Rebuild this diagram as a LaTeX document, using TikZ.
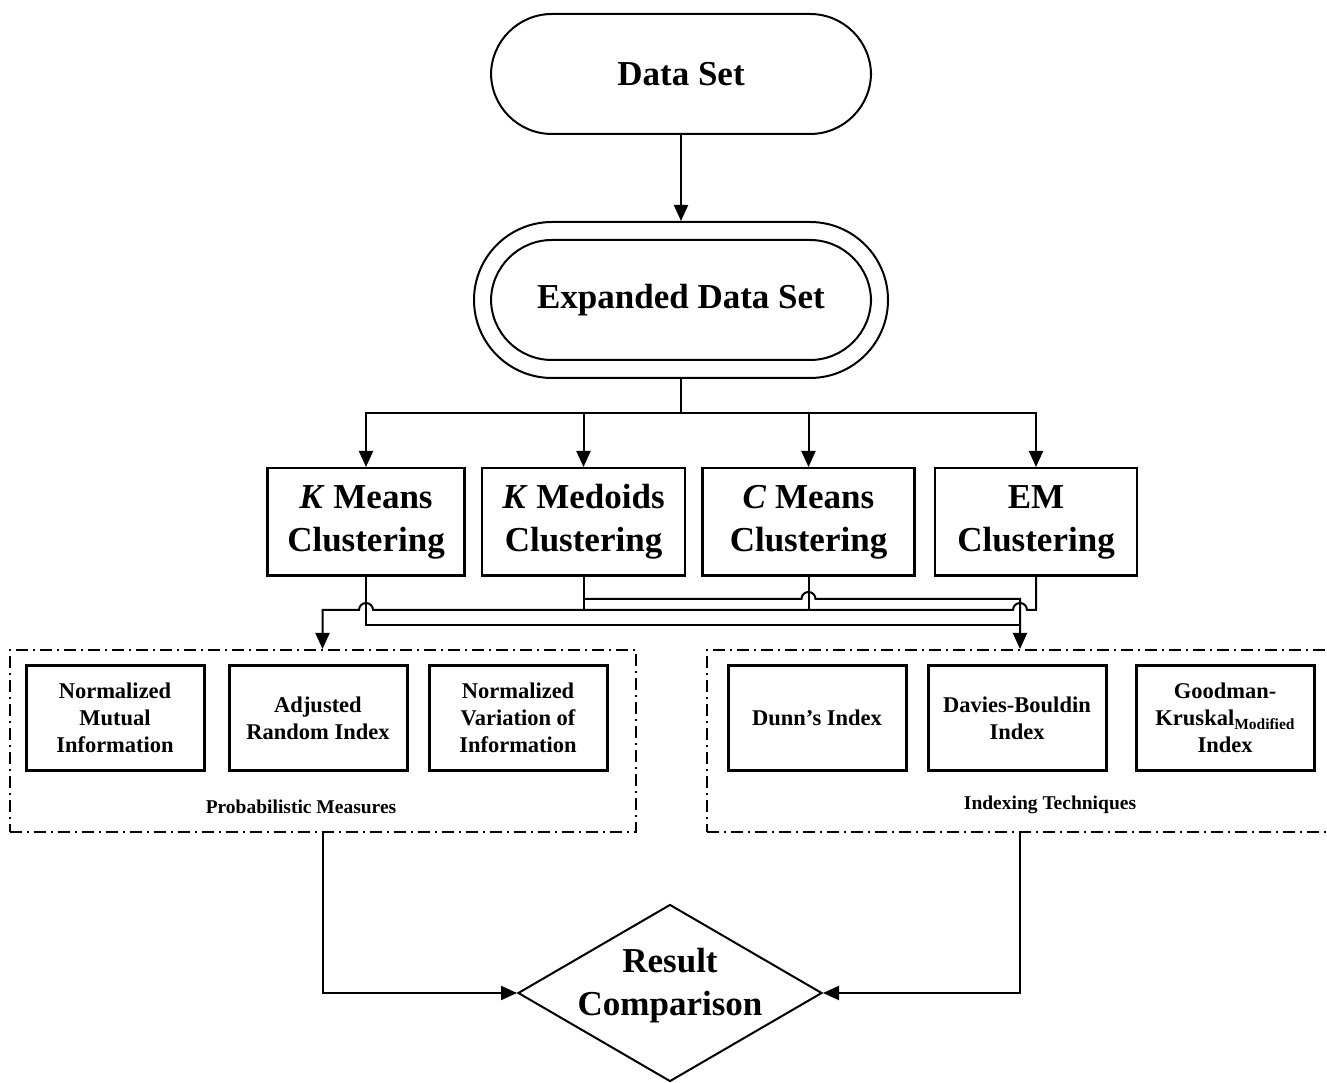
\documentclass[tikz,border=0pt]{standalone}
\usepackage{fontspec}
\setmainfont{Liberation Serif}
\usetikzlibrary{arrows.meta, positioning, shapes.geometric, calc}

\begin{document}
\begin{tikzpicture}[x=1pt, y=1pt, node distance=15pt,
    every node/.style={font=\bfseries},
    big/.style={font=\fontsize{35}{43}\selectfont\bfseries, align=center},
    pill/.style={big, draw, line width=2pt, rectangle, rounded corners=61pt, minimum width=380pt, minimum height=120pt},
    algo/.style={big, draw, line width=2.5pt, minimum height=107.5pt},
    meas/.style={draw, line width=3pt, minimum width=178pt, minimum height=105pt, align=center, font=\fontsize{22.5}{27}\selectfont\bfseries},
    group/.style={draw, line width=2pt, dash pattern=on 12pt off 5pt on 2pt off 5pt, minimum width=626pt, minimum height=182pt},
    glabel/.style={font=\fontsize{19.5}{23}\selectfont\bfseries},
    link/.style={line width=2pt},
    arr/.style={link, -{Triangle[length=16pt, width=14pt]}}]
    \useasboundingbox (0,0) rectangle (1327,1082);

    % data sets
    \node[pill] (ds) at (681,1008) {Data Set};
    \node[pill, minimum width=414pt, minimum height=156pt, rounded corners=78pt] (expo) at (681,782) {};
    \node[pill] (exp) at (681,782) {Expanded Data Set};
    \coordinate (fork) at (681,669);

    % clustering algorithms
    \node[algo, minimum width=197pt] (km) at (366,560) {\textit{K} Means\\Clustering};
    \node[algo, minimum width=203pt, right=15pt of km] (kmd) {\textit{K} Medoids\\Clustering};
    \node[algo, minimum width=212pt, right=15pt of kmd] (cm) {\textit{C} Means\\Clustering};
    \node[algo, minimum width=202pt, right=18pt of cm] (em) {EM\\Clustering};

    % evaluation groups
    \node[group] (prob) at (322.5,341) {};
    \node[group] (indx) at (1020,341) {};
    \node[meas] (nmi) at (115,364) {Normalized\\Mutual\\Information};
    \node[meas, right=22pt of nmi] (ari) {Adjusted\\Random Index};
    \node[meas, right=19pt of ari] (nvi) {Normalized\\Variation of\\Information};
    \node[meas] (dunn) at (817,364) {Dunn’s Index};
    \node[meas, right=19pt of dunn] (dbi) {Davies-Bouldin\\Index};
    \node[meas, right=27pt of dbi] (gki) {Goodman-\\Kruskal\raisebox{-4pt}{\fontsize{15.5}{16}\selectfont Modified}\\Index};
    \node[glabel] (plab) at (301,275) {Probabilistic Measures};
    \node[glabel] (ilab) at (1050,277) {Indexing Techniques};

    \node[diamond, draw, line width=2pt, aspect=1.72, minimum width=304pt, minimum height=177pt, inner sep=-10pt, text depth=23pt, big] (res) at (670,89) {Result\\Comparison};

    % connectors
    \coordinate (rowA) at (0,483);
    \coordinate (rowB) at (0,472);
    \coordinate (rowC) at (0,457);

    \draw[arr] (ds) -- (expo);
    \draw[link] (expo.south) -- (fork);
    \draw[arr] (fork) -| (km);
    \draw[arr] (fork) -| (kmd);
    \draw[arr] (fork) -| (cm);
    \draw[arr] (fork) -| (em);

    \draw[link] (km.south) |- (indx.north |- rowC);
    \draw[link] (kmd.south) -- (kmd.south |- rowB);
    \draw[link] (cm.south) -- (cm.south |- rowB);
    \draw[arr] (em.south) -- (em.south |- rowB) -- ($(indx.north |- rowB)+(7,0)$)
        arc[start angle=0, end angle=180, radius=7pt] -- ($(km.south |- rowB)+(7,0)$)
        arc[start angle=0, end angle=180, radius=7pt] -- (prob.north |- rowB) -- (prob.north);
    \draw[arr] (kmd.south |- rowA) -- ($(cm.south |- rowA)-(7,0)$)
        arc[start angle=180, end angle=0, radius=7pt] -- (indx.north |- rowA) -- (indx.north);

    \draw[arr] (prob.south) |- (res.west);
    \draw[arr] (indx.south) |- (res.east);
\end{tikzpicture}
\end{document}
